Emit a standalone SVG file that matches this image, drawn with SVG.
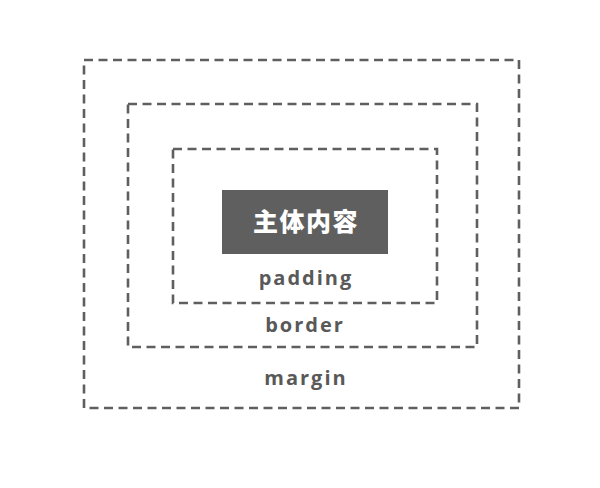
<svg xmlns="http://www.w3.org/2000/svg" width="600" height="488" viewBox="0 0 600 488">
<style>
.box{fill:none;stroke:#5f5f5f;stroke-width:2.6;stroke-dasharray:9 5.5}
.lbl{font-family:"Open Sans","Noto Sans",sans-serif;font-weight:bold;font-size:20px;fill:#595959;letter-spacing:2px;text-anchor:middle}
.main{font-family:"Noto Sans CJK SC","Noto Sans",sans-serif;font-weight:900;font-size:25px;fill:#ffffff;text-anchor:middle;letter-spacing:1.5px}
</style>
<rect width="600" height="488" fill="#ffffff"/>
<g id="margin">
<rect class="box" x="84" y="60" width="435" height="348"/>
<text class="lbl" x="306" y="385">margin</text>
</g>
<g id="border">
<rect class="box" x="128" y="104" width="349" height="243"/>
<text class="lbl" x="305" y="332">border</text>
</g>
<g id="padding">
<rect class="box" x="173" y="149" width="264" height="154"/>
<text class="lbl" x="306" y="285">padding</text>
</g>
<g id="content">
<rect x="222" y="190" width="166" height="64" fill="#5f5f5f"/>
<text class="main" x="306" y="231">主体内容</text>
</g>
<g id="connectors"></g>
</svg>
